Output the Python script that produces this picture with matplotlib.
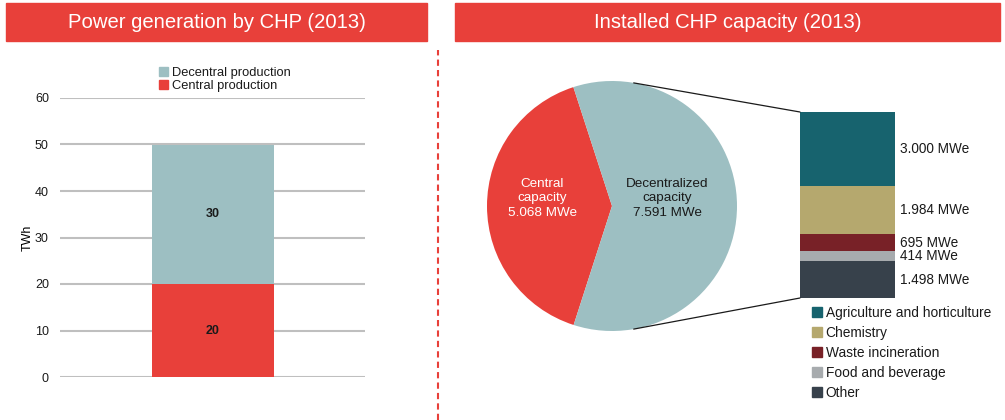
import numpy as np
import matplotlib.pyplot as plt
from matplotlib.patches import Rectangle, Patch, ConnectionPatch
from matplotlib.lines import Line2D

plt.rcParams['font.family'] = ['Liberation Sans', 'DejaVu Sans']
plt.rcParams['text.color'] = '#1a1a1a'

# left chart data
gen_labels = ['Central production', 'Decentral production']
gen_values = [20, 30]
gen_colors = ['#E8403A', '#9DBFC2']

# pie data
cap_labels = ['Central\ncapacity\n5.068 MWe', 'Decentralized\ncapacity\n7.591 MWe']
cap_values = [5068, 7591]
cap_colors = ['#E8403A', '#9DBFC2']

# breakdown of decentralized capacity (top to bottom)
sector_names = ['Agriculture and horticulture', 'Chemistry', 'Waste incineration',
                'Food and beverage', 'Other']
sector_values = [3000, 1984, 695, 414, 1498]
sector_text = ['3.000 MWe', '1.984 MWe', '695 MWe', '414 MWe', '1.498 MWe']
sector_colors = ['#17636E', '#B5A86E', '#782127', '#A7ABAE', '#37414B']

RED = '#E8403A'
W, H = 1005, 420
fig = plt.figure(figsize=(W / 100, H / 100), dpi=100)


def box(x0, y0, x1, y1):
    # pixel box (top-left origin) -> figure fraction rect
    return [x0 / W, 1 - y1 / H, (x1 - x0) / W, (y1 - y0) / H]


# title bars
for (x0, x1, title) in [(6, 427, 'Power generation by CHP (2013)'),
                        (455, 1000, 'Installed CHP capacity (2013)')]:
    r = box(x0, 3, x1, 41)
    fig.patches.append(Rectangle((r[0], r[1]), r[2], r[3], transform=fig.transFigure,
                                 color=RED, zorder=0))
    fig.text(r[0] + r[2] / 2, r[1] + r[3] / 2, title, color='white', fontsize=14.6,
             ha='center', va='center')

# dashed separator
fig.lines.append(Line2D([438 / W, 438 / W], [0, 1 - 50 / H], transform=fig.transFigure,
                        color=RED, lw=1.5, linestyle=(0, (3, 2))))

# ---- left: stacked bar
ax = fig.add_axes(box(60, 98, 365, 377))
bottom = 0
for val, col in zip(gen_values, gen_colors):
    ax.bar(0, val, width=1.0, bottom=bottom, color=col, zorder=3)
    ax.text(0, bottom + val / 2, str(val), ha='center', va='center', fontsize=9,
            fontweight='bold', zorder=4)
    bottom += val
ax.set_xlim(-1.25, 1.25)
ax.set_ylim(0, 60)
ax.set_yticks(range(0, 61, 10))
ax.set_xticks([])
ax.grid(axis='y', color='#BFBFBF', lw=1.5, zorder=0)
for s in ax.spines.values():
    s.set_visible(False)
ax.tick_params(axis='y', length=0, labelsize=9, pad=8, labelcolor='#1a1a1a')
ax.set_ylabel('TWh', fontsize=9, labelpad=1)
handles = [Patch(color=c) for c in gen_colors[::-1]]
ax.legend(handles, gen_labels[::-1], loc='lower left', bbox_to_anchor=(0.295, 0.99),
          frameon=False, fontsize=9.3, handlelength=0.7, handleheight=0.7,
          handletextpad=0.3, labelspacing=0.08, borderpad=0.2)

# ---- right: pie
pax = fig.add_axes(box(482, 76, 742, 336))
wedges, _ = pax.pie(cap_values, colors=cap_colors, startangle=108, radius=1.0)
pax.set_xlim(-1.04, 1.04)
pax.set_ylim(-1.04, 1.04)
pax.set_aspect('equal')
pax.axis('off')
pax.text(-0.56, 0.06, cap_labels[0], color='white', ha='center', va='center',
         fontsize=9.7, linespacing=1.25)
pax.text(0.44, 0.06, cap_labels[1], color='#1a1a1a', ha='center', va='center',
         fontsize=9.7, linespacing=1.25)

# ---- right: breakdown bar
bax = fig.add_axes(box(800, 112, 895, 298))
total = sum(sector_values)
bottom = 0
for val, col, txt in zip(sector_values[::-1], sector_colors[::-1], sector_text[::-1]):
    bax.bar(0, val, width=1.0, bottom=bottom, color=col)
    bax.text(0.55, bottom + val / 2, txt, ha='left', va='center', fontsize=9.8,
             clip_on=False)
    bottom += val
bax.set_xlim(-0.5, 0.5)
bax.set_ylim(0, total)
bax.axis('off')

# connector lines
ang = np.deg2rad(80)
for sgn, yb in [(1, total), (-1, 0)]:
    con = ConnectionPatch(xyA=(np.cos(ang), sgn * np.sin(ang)), coordsA=pax.transData,
                          xyB=(-0.5, yb), coordsB=bax.transData, color='#1a1a1a', lw=0.9)
    fig.add_artist(con)

# right legend
handles = [Patch(color=c) for c in sector_colors]
fig.legend(handles, sector_names, loc='upper left', bbox_to_anchor=(805 / W, 1 - 299 / H),
           frameon=False, fontsize=9.9, handlelength=0.7, handleheight=0.7,
           handletextpad=0.3, labelspacing=0.43, borderpad=0)

fig.savefig('out.png', dpi=100)
